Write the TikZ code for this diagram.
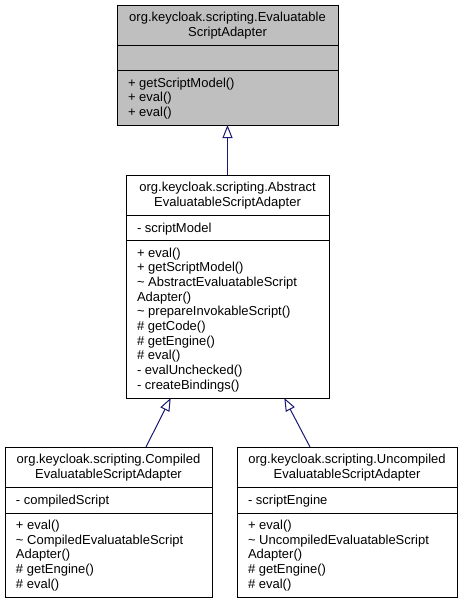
\documentclass[tikz,border=0pt]{standalone}
\usepackage{fontspec}
\setmainfont{Liberation Sans}
\usetikzlibrary{arrows.meta,calc}
\definecolor{boxgray}{RGB}{191,191,191}
\definecolor{edgeblue}{RGB}{25,25,112}
\begin{document}
\begin{tikzpicture}[x=1pt,y=-1pt,
  classbox/.style={draw=black,line width=1pt,rectangle,inner sep=0pt,outer sep=0pt,anchor=north west},
  sepline/.style={draw=black,line width=1pt},
  txt/.style={inner sep=0pt,outer sep=0pt,font=\fontsize{13}{15}\selectfont},
  ttl/.style={txt,anchor=base},
  mem/.style={txt,anchor=base west},
  inherit/.style={draw=edgeblue,line width=1pt,-{Triangle[open,length=13pt,width=10pt,line width=1pt]}}
]
\useasboundingbox (0,0) rectangle (463,603);
\fill[white] (0,0) rectangle (463,603);

% ---------- top class ----------
\node[classbox,fill=boxgray,minimum width=221pt,minimum height=120pt] (top) at (117,5) {};
\draw[sepline] (117,45.5) -- (338,45.5);
\draw[sepline] (117,70.5) -- (338,70.5);
\node[ttl] (t1) at (227.5,21.5) {org.keycloak.scripting.Evaluatable};
\node[ttl] (t2) at (227.5,36.2) {ScriptAdapter};
\node[mem] (tm1) at (128,87) {+ getScriptModel()};
\node[mem] (tm2) at (128,101.7) {+ eval()};
\node[mem] (tm3) at (128,116.4) {+ eval()};

% ---------- middle class ----------
\node[classbox,fill=white,minimum width=203pt,minimum height=223pt] (mid) at (126,175) {};
\draw[sepline] (126,215) -- (329,215);
\draw[sepline] (126,240.5) -- (329,240.5);
\node[ttl] (m1) at (227.5,191.5) {org.keycloak.scripting.Abstract};
\node[ttl] (m2) at (227.5,206.2) {EvaluatableScriptAdapter};
\node[mem] (mf1) at (137,232) {- scriptModel};
\node[mem] (mm1) at (137,257) {+ eval()};
\node[mem] (mm2) at (137,271.7) {+ getScriptModel()};
\node[mem] (mm3) at (137,286.4) {\textasciitilde{} AbstractEvaluatableScript};
\node[mem] (mm4) at (137,301.1) {Adapter()};
\node[mem] (mm5) at (137,315.8) {\textasciitilde{} prepareInvokableScript()};
\node[mem] (mm6) at (137,330.5) {\# getCode()};
\node[mem] (mm7) at (137,345.2) {\# getEngine()};
\node[mem] (mm8) at (137,359.9) {\# eval()};
\node[mem] (mm9) at (137,374.6) {- evalUnchecked()};
\node[mem] (mm10) at (137,389.3) {- createBindings()};

% ---------- left class ----------
\node[classbox,fill=white,minimum width=207pt,minimum height=150pt] (left) at (5,447) {};
\draw[sepline] (5,487) -- (212,487);
\draw[sepline] (5,513) -- (212,513);
\node[ttl] (l1) at (108.5,463.5) {org.keycloak.scripting.Compiled};
\node[ttl] (l2) at (108.5,478.2) {EvaluatableScriptAdapter};
\node[mem] (lf1) at (16,504) {- compiledScript};
\node[mem] (lm1) at (16,529.5) {+ eval()};
\node[mem] (lm2) at (16,544.2) {\textasciitilde{} CompiledEvaluatableScript};
\node[mem] (lm3) at (16,558.9) {Adapter()};
\node[mem] (lm4) at (16,573.6) {\# getEngine()};
\node[mem] (lm5) at (16,588.3) {\# eval()};

% ---------- right class ----------
\node[classbox,fill=white,minimum width=220pt,minimum height=150pt] (right) at (237,447) {};
\draw[sepline] (237,487) -- (457,487);
\draw[sepline] (237,513) -- (457,513);
\node[ttl] (r1) at (347,463.5) {org.keycloak.scripting.Uncompiled};
\node[ttl] (r2) at (347,478.2) {EvaluatableScriptAdapter};
\node[mem] (rf1) at (248,504) {- scriptEngine};
\node[mem] (rm1) at (248,529.5) {+ eval()};
\node[mem] (rm2) at (248,544.2) {\textasciitilde{} UncompiledEvaluatableScript};
\node[mem] (rm3) at (248,558.9) {Adapter()};
\node[mem] (rm4) at (248,573.6) {\# getEngine()};
\node[mem] (rm5) at (248,588.3) {\# eval()};

% ---------- inheritance connectors ----------
\coordinate (lStart) at ($(left.north west)+(141,0)$);
\coordinate (lEnd) at ($(mid.south west)+(44.7,0)$);
\coordinate (rStart) at ($(right.north west)+(73,0)$);
\coordinate (rEnd) at ($(mid.south west)+(158.3,0)$);
\draw[inherit] (mid.north) -- (top.south);
\draw[inherit] (lStart) -- (lEnd);
\draw[inherit] (rStart) -- (rEnd);
\end{tikzpicture}
\end{document}
